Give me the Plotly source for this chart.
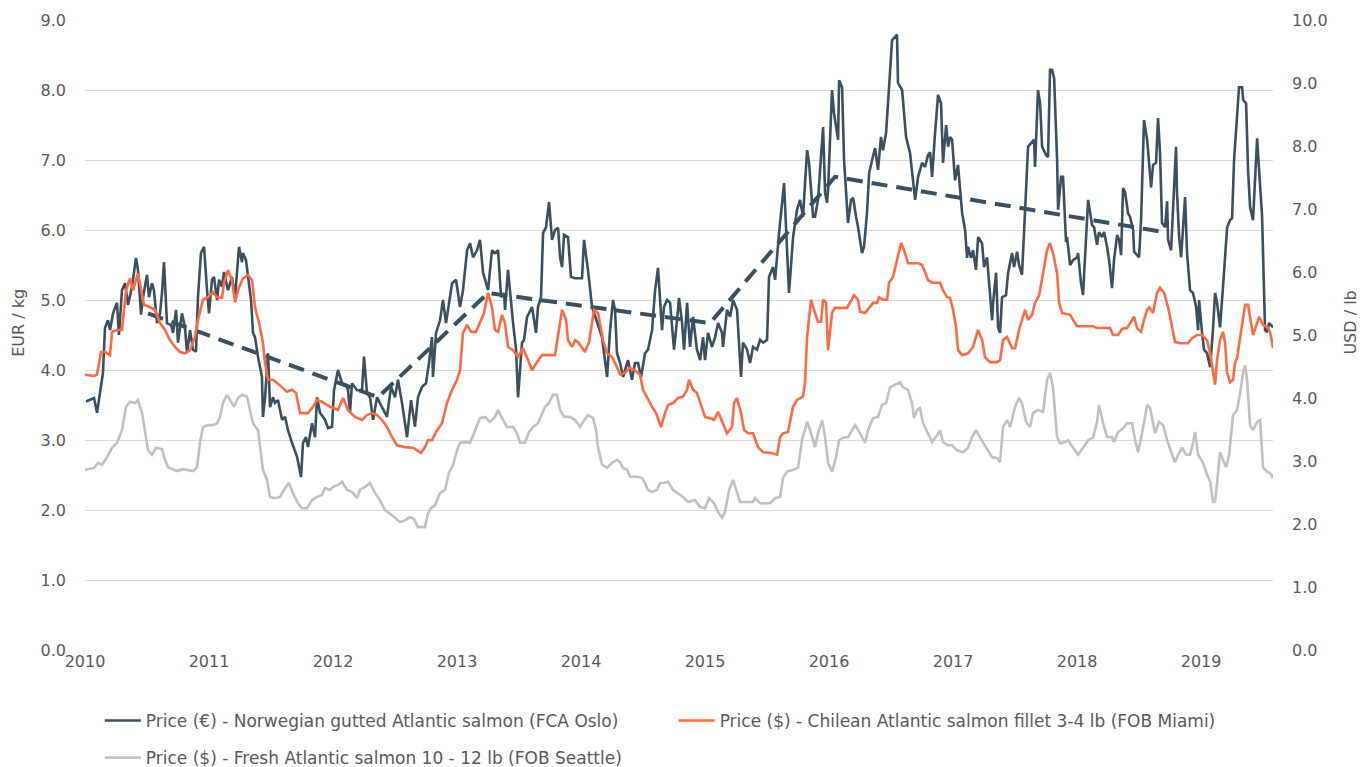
import plotly.graph_objects as go

# ---- Norwegian gutted Atlantic salmon (FCA Oslo), EUR/kg; time in years since Jan 2010 ----
nor_t = [0.008,0.073,0.097,0.121,0.145,0.161,0.185,0.202,0.226,0.258,0.274,0.298,0.323,0.347,0.379,0.411,0.427,0.452,0.468,0.5,
         0.516,0.540,0.556,0.581,0.605,0.621,0.637,0.661,0.694,0.710,0.734,0.750,0.782,0.806,0.823,0.847,0.871,0.895,0.911,0.935,
         0.960,0.984,1.0,1.024,1.040,1.065,1.081,1.105,1.121,1.153,1.185,1.210,1.242,1.266,1.274,1.298,1.315,1.339,1.355,1.371,
         1.395,1.427,1.435,1.452,1.476,1.492,1.516,1.532,1.556,1.589,1.613,1.637,1.669,1.710,1.742,1.758,1.782,1.798,1.831,1.855,
         1.871,1.895,1.935,1.960,1.992,2.008,2.040,2.073,2.105,2.121,2.137,2.153,2.194,2.234,2.250,2.274,2.298,2.323,2.355,2.379,
         2.403,2.435,2.468,2.5,2.524,2.556,2.597,2.629,2.661,2.685,2.718,2.750,2.774,2.798,2.806,2.831,2.863,2.887,2.911,2.935,
         2.960,2.992,3.024,3.048,3.081,3.105,3.129,3.161,3.185,3.210,3.250,3.282,3.306,3.331,3.355,3.379,3.387,3.411,3.427,3.452,
         3.476,3.492,3.524,3.540,3.565,3.589,3.605,3.637,3.653,3.677,3.694,3.718,3.742,3.766,3.790,3.815,3.831,3.847,3.863,3.895,
         3.919,3.952,4.008,4.024,4.056,4.089,4.129,4.169,4.210,4.234,4.258,4.274,4.290,4.315,4.339,4.379,4.411,4.435,4.460,4.484,
         4.516,4.540,4.573,4.597,4.621,4.653,4.669,4.694,4.718,4.750,4.774,4.790,4.815,4.831,4.855,4.879,4.903,4.935,4.960,4.984,
         5.0,5.024,5.056,5.081,5.105,5.137,5.145,5.177,5.202,5.226,5.258,5.290,5.306,5.339,5.363,5.387,5.419,5.444,5.468,5.5,
         5.516,5.548,5.565,5.597,5.637,5.661,5.677,5.710,5.742,5.766,5.790,5.823,5.839,5.871,5.887,5.911,5.952,5.968,5.984,5.992,
         6.024,6.040,6.073,6.081,6.105,6.121,6.145,6.153,6.177,6.194,6.218,6.234,6.266,6.282,6.306,6.323,6.347,6.371,6.395,6.419,
         6.435,6.460,6.484,6.508,6.548,6.556,6.589,6.621,6.653,6.694,6.718,6.750,6.774,6.798,6.815,6.831,6.855,6.879,6.903,6.919,
         6.944,6.960,6.976,6.992,7.016,7.040,7.073,7.097,7.113,7.121,7.145,7.161,7.185,7.202,7.234,7.250,7.274,7.290,7.315,7.323,
         7.347,7.363,7.379,7.395,7.427,7.444,7.476,7.492,7.516,7.532,7.556,7.581,7.605,7.629,7.653,7.661,7.685,7.702,7.718,7.750,
         7.766,7.782,7.798,7.815,7.839,7.847,7.871,7.887,7.911,7.919,7.944,7.968,8.0,8.008,8.032,8.048,8.073,8.089,8.121,8.137,
         8.161,8.177,8.202,8.218,8.242,8.258,8.282,8.298,8.323,8.339,8.355,8.371,8.387,8.411,8.427,8.452,8.460,8.484,8.5,8.516,
         8.540,8.565,8.597,8.613,8.637,8.653,8.669,8.685,8.710,8.726,8.734,8.758,8.774,8.798,8.806,8.823,8.839,8.855,8.871,8.887,
         8.911,8.935,8.960,8.976,8.984,9.008,9.024,9.048,9.073,9.097,9.113,9.129,9.153,9.177,9.194,9.210,9.234,9.250,9.266,9.290,
         9.306,9.331,9.339,9.363,9.379,9.395,9.419,9.452,9.476,9.492,9.516,9.532,9.548,9.581]
nor_v = [3.55,3.6,3.39,3.67,3.96,4.6,4.71,4.57,4.81,4.96,4.5,5.14,5.24,4.93,5.19,5.6,5.43,4.79,5.04,5.36,
         5.04,5.24,5.14,4.67,4.81,5.1,5.54,4.67,4.64,4.53,4.86,4.39,4.81,4.61,4.24,4.57,4.29,4.26,5.04,5.67,
         5.76,5.14,4.81,5.29,5.33,5.0,5.29,5.19,5.4,5.14,5.33,5.04,5.76,5.54,5.67,5.57,5.33,5.0,4.53,4.47,
         4.19,3.9,3.33,3.61,4.24,3.47,3.61,3.53,3.57,3.29,3.33,3.14,2.96,2.76,2.47,2.96,3.04,2.9,3.24,3.04,
         3.61,3.39,3.29,3.17,3.19,3.71,4.0,3.81,3.79,3.71,3.39,3.81,3.71,3.71,4.19,3.67,3.61,3.29,3.61,3.53,
         3.43,3.33,3.76,3.61,3.86,3.53,3.04,3.57,3.19,3.61,3.76,3.81,4.1,4.47,3.9,4.53,4.71,5.0,4.67,4.96,
         5.24,5.29,4.9,5.14,5.71,5.81,5.61,5.71,5.86,5.39,5.14,5.71,5.67,5.71,5.04,5.1,4.86,5.43,5.1,4.67,
         4.29,3.61,4.39,4.43,4.76,4.86,4.9,4.53,4.9,5.04,5.96,6.04,6.4,5.86,6.0,6.03,5.61,5.47,5.93,5.9,
         5.33,5.31,5.31,5.86,5.43,4.9,4.67,4.47,3.9,4.57,5.0,4.86,4.24,4.1,3.9,4.14,3.86,4.1,4.1,3.9,
         4.24,4.29,4.57,5.14,5.46,4.57,4.9,5.0,4.96,4.29,4.71,5.03,4.67,4.29,4.96,4.33,4.76,4.29,4.14,4.47,
         4.14,4.53,4.33,4.47,4.67,4.53,4.33,4.86,4.76,5.0,4.86,3.9,4.39,4.29,4.1,4.33,4.29,4.43,4.39,4.43,
         5.33,5.47,5.29,5.96,6.67,5.71,5.1,5.9,6.29,6.43,6.19,7.14,6.96,6.19,6.19,6.43,7.47,6.53,6.39,6.57,
         8.0,7.67,7.29,8.14,8.04,7.0,6.43,6.1,6.43,6.46,6.19,6.04,5.67,5.76,6.24,6.81,7.0,7.17,6.86,7.33,
         7.14,7.39,8.04,8.71,8.79,8.1,8.0,7.33,7.1,6.43,6.76,6.96,6.9,7.07,7.11,6.76,7.39,7.93,7.81,6.96,
         7.5,7.19,7.33,7.29,6.71,6.93,6.24,6.0,5.6,5.76,5.6,5.71,5.43,5.9,5.81,5.47,5.61,5.29,4.71,4.96,
         5.39,4.61,4.53,5.04,5.07,5.39,5.67,5.47,5.69,5.5,5.36,6.29,7.19,7.24,7.29,6.9,8.0,7.81,7.19,7.07,
         7.04,8.29,8.29,8.17,7.0,6.29,6.76,6.76,5.83,5.9,5.5,5.57,5.61,5.67,5.24,5.07,5.86,6.43,6.07,6.04,
         5.79,5.97,5.9,5.97,5.76,5.57,5.17,5.57,5.93,5.86,5.64,6.6,6.54,6.24,6.19,6.0,5.69,5.64,5.61,6.14,
         7.57,7.29,6.61,6.93,6.96,7.6,7.1,6.1,6.04,6.41,5.86,5.71,6.39,7.19,6.53,5.9,5.61,6.04,6.47,5.67,
         5.14,5.1,4.9,4.57,5.0,4.53,4.29,4.24,4.04,4.61,5.1,4.96,4.61,5.19,5.67,6.04,6.14,6.17,7.0,7.67,
         8.04,8.04,7.86,7.81,6.86,6.33,6.14,7.31,6.53,6.19,4.57,4.54,4.67,4.61]

# ---- Trend (dashed), EUR/kg ----
trend_t = [0.508, 2.363, 3.250, 5.040, 6.048, 8.734]
trend_v = [4.81, 3.61, 5.10, 4.67, 6.76, 5.96]

# ---- Chilean Atlantic salmon fillet 3-4 lb (FOB Miami), USD/lb ----
chi_t = [0.0,0.073,0.097,0.129,0.161,0.202,0.218,0.258,0.298,0.331,0.363,0.387,0.427,0.460,0.476,0.524,0.565,0.605,0.645,0.685,
         0.726,0.766,0.806,0.847,0.887,0.911,0.952,0.992,1.032,1.065,1.105,1.121,1.153,1.185,1.210,1.242,1.274,1.315,1.347,1.371,
         1.411,1.435,1.452,1.476,1.516,1.548,1.589,1.629,1.669,1.702,1.734,1.798,1.839,1.871,1.911,1.976,2.040,2.081,2.121,2.177,
         2.234,2.274,2.315,2.355,2.395,2.435,2.476,2.516,2.581,2.621,2.645,2.677,2.710,2.742,2.766,2.798,2.839,2.879,2.919,2.960,
         3.0,3.024,3.048,3.081,3.113,3.153,3.185,3.218,3.250,3.282,3.306,3.331,3.363,3.387,3.411,3.452,3.492,3.532,3.573,3.605,
         3.645,3.685,3.790,3.815,3.847,3.879,3.895,3.927,3.952,3.976,4.032,4.065,4.105,4.137,4.177,4.210,4.250,4.290,4.315,4.355,
         4.395,4.435,4.476,4.5,4.532,4.573,4.605,4.645,4.677,4.702,4.742,4.782,4.823,4.855,4.871,4.903,4.935,4.960,5.0,5.040,
         5.073,5.105,5.145,5.177,5.218,5.234,5.258,5.290,5.315,5.347,5.387,5.427,5.468,5.524,5.581,5.605,5.629,5.669,5.710,5.742,
         5.790,5.806,5.823,5.855,5.879,5.911,5.935,5.952,5.976,5.992,6.024,6.048,6.145,6.169,6.202,6.234,6.250,6.290,6.323,6.355,
         6.387,6.403,6.435,6.468,6.484,6.516,6.548,6.581,6.605,6.637,6.718,6.750,6.774,6.798,6.831,6.895,6.919,6.952,6.976,7.0,
         7.024,7.040,7.073,7.121,7.161,7.202,7.234,7.258,7.298,7.355,7.379,7.403,7.435,7.476,7.5,7.532,7.556,7.581,7.605,7.637,
         7.661,7.694,7.726,7.758,7.782,7.806,7.839,7.855,7.879,7.944,7.968,8.0,8.129,8.161,8.266,8.290,8.331,8.363,8.403,8.427,
         8.460,8.484,8.516,8.540,8.565,8.581,8.613,8.645,8.669,8.702,8.734,8.766,8.790,8.831,8.895,8.927,8.968,9.008,9.048,9.073,
         9.097,9.113,9.129,9.153,9.177,9.194,9.210,9.234,9.258,9.274,9.290,9.331,9.355,9.379,9.403,9.419,9.452,9.468,9.5,9.532,
         9.556,9.581]
chi_v = [4.37,4.35,4.37,4.73,4.73,4.68,5.05,5.08,5.08,5.71,5.9,5.71,5.98,5.6,5.48,5.44,5.4,5.19,5.08,4.92,
         4.81,4.73,4.71,4.76,4.97,5.24,5.56,5.6,5.68,5.6,5.59,5.83,6.03,5.87,5.52,5.76,5.9,5.95,5.87,5.44,
         5.13,4.87,4.56,4.29,4.29,4.24,4.17,4.1,4.13,4.08,3.76,3.76,3.86,3.97,3.94,3.86,3.81,4.0,3.81,3.7,
         3.65,3.73,3.76,3.73,3.65,3.54,3.38,3.25,3.22,3.22,3.21,3.17,3.13,3.22,3.33,3.33,3.49,3.6,3.92,4.13,
         4.29,4.44,5.03,5.16,5.05,5.05,5.19,5.35,5.67,5.44,5.08,5.05,5.32,5.19,4.81,4.76,4.65,4.79,4.6,4.44,
         4.57,4.68,4.68,5.03,5.4,5.24,4.92,4.81,4.92,4.89,4.73,4.89,5.4,5.35,4.92,4.71,4.65,4.49,4.37,4.4,
         4.48,4.44,4.37,4.13,4.0,3.86,3.76,3.54,3.76,3.89,3.92,4.0,4.02,4.13,4.29,4.13,4.08,3.92,3.7,3.68,
         3.65,3.78,3.6,3.44,3.54,3.92,4.0,3.76,3.49,3.44,3.44,3.22,3.14,3.13,3.1,3.38,3.44,3.46,3.86,3.97,
         4.02,4.24,4.97,5.56,5.4,5.21,5.21,5.56,5.51,4.76,5.35,5.43,5.43,5.51,5.63,5.56,5.37,5.35,5.44,5.51,
         5.51,5.6,5.56,5.56,5.83,5.92,6.19,6.46,6.35,6.14,6.14,6.11,6.0,5.87,5.83,5.83,5.71,5.6,5.59,5.4,
         5.13,4.76,4.68,4.71,4.81,5.08,4.92,4.65,4.57,4.57,4.6,4.92,4.97,4.79,4.79,5.08,5.24,5.4,5.24,5.32,
         5.51,5.63,5.98,6.35,6.46,6.3,5.98,5.51,5.35,5.32,5.24,5.14,5.14,5.11,5.11,5.0,5.0,5.1,5.11,5.19,
         5.29,5.11,5.05,5.24,5.4,5.44,5.35,5.67,5.75,5.67,5.44,5.13,4.89,4.87,4.87,4.95,5.0,5.0,4.92,4.71,
         4.44,4.21,4.6,4.92,5.05,4.87,4.4,4.25,4.29,4.56,4.63,5.13,5.48,5.48,5.19,5.0,5.19,5.29,5.16,5.13,
         5.05,4.79]

# ---- Fresh Atlantic salmon 10-12 lb (FOB Seattle), USD/lb ----
sea_t = [0.0,0.073,0.105,0.137,0.177,0.218,0.258,0.298,0.331,0.363,0.403,0.427,0.460,0.484,0.508,0.540,0.573,0.621,0.645,0.669,
         0.742,0.790,0.831,0.871,0.903,0.927,0.952,0.992,1.032,1.065,1.089,1.113,1.145,1.169,1.202,1.234,1.266,1.306,1.331,1.355,
         1.395,1.435,1.468,1.492,1.532,1.573,1.613,1.645,1.677,1.718,1.750,1.790,1.831,1.871,1.911,1.935,1.976,2.0,2.040,2.073,
         2.113,2.153,2.194,2.218,2.258,2.298,2.339,2.379,2.419,2.476,2.540,2.581,2.621,2.653,2.685,2.742,2.766,2.790,2.823,2.863,
         2.903,2.935,2.968,3.0,3.024,3.065,3.105,3.145,3.185,3.226,3.266,3.306,3.331,3.363,3.403,3.452,3.484,3.508,3.548,3.581,
         3.613,3.653,3.685,3.710,3.742,3.774,3.806,3.831,3.863,3.911,3.952,3.992,4.016,4.056,4.097,4.121,4.137,4.169,4.210,4.250,
         4.290,4.315,4.339,4.371,4.395,4.452,4.492,4.516,4.540,4.573,4.613,4.637,4.669,4.702,4.742,4.782,4.823,4.863,4.919,4.960,
         5.0,5.032,5.073,5.105,5.137,5.161,5.194,5.226,5.258,5.282,5.387,5.403,5.444,5.524,5.565,5.605,5.629,5.661,5.710,5.750,
         5.782,5.823,5.847,5.887,5.911,5.944,5.968,5.992,6.024,6.056,6.081,6.113,6.153,6.210,6.250,6.290,6.315,6.355,6.395,6.427,
         6.460,6.492,6.532,6.573,6.597,6.637,6.669,6.685,6.710,6.734,6.758,6.798,6.831,6.871,6.895,6.919,6.960,6.992,7.032,7.081,
         7.121,7.153,7.185,7.218,7.242,7.282,7.315,7.355,7.379,7.403,7.435,7.460,7.5,7.532,7.556,7.589,7.621,7.645,7.685,7.726,
         7.758,7.782,7.806,7.839,7.863,7.903,7.927,7.968,8.008,8.048,8.089,8.129,8.161,8.177,8.210,8.242,8.282,8.298,8.331,8.371,
         8.403,8.444,8.468,8.492,8.524,8.565,8.589,8.629,8.661,8.694,8.726,8.766,8.790,8.815,8.847,8.879,8.911,8.935,8.952,8.976,
         9.016,9.048,9.073,9.097,9.113,9.137,9.153,9.177,9.202,9.226,9.258,9.290,9.315,9.339,9.355,9.371,9.395,9.419,9.452,9.476,
         9.500,9.532,9.556,9.581]
sea_v = [2.86,2.89,2.97,2.94,3.06,3.21,3.29,3.49,3.86,3.94,3.92,3.97,3.76,3.44,3.17,3.1,3.21,3.19,3.02,2.9,
         2.84,2.87,2.86,2.84,2.9,3.29,3.54,3.57,3.57,3.6,3.7,3.92,4.05,3.97,3.86,4.0,4.05,4.02,3.81,3.6,
         3.49,2.86,2.7,2.43,2.41,2.43,2.57,2.65,2.49,2.33,2.25,2.25,2.38,2.43,2.46,2.57,2.54,2.59,2.62,2.67,
         2.54,2.51,2.41,2.54,2.59,2.65,2.49,2.38,2.22,2.14,2.03,2.06,2.11,2.08,1.95,1.95,2.17,2.25,2.3,2.49,
         2.54,2.81,2.94,3.17,3.29,3.3,3.29,3.49,3.68,3.7,3.62,3.7,3.81,3.68,3.54,3.54,3.44,3.29,3.29,3.46,
         3.54,3.6,3.76,3.86,3.92,4.05,4.05,3.81,3.7,3.7,3.65,3.54,3.62,3.73,3.68,3.49,3.22,2.94,2.89,2.97,
         3.02,2.98,2.89,2.86,2.75,2.75,2.73,2.65,2.54,2.51,2.54,2.65,2.65,2.67,2.54,2.49,2.43,2.35,2.38,2.27,
         2.25,2.41,2.33,2.19,2.1,2.19,2.54,2.7,2.49,2.35,2.35,2.41,2.33,2.33,2.41,2.43,2.73,2.83,2.86,2.89,
         3.33,3.62,3.49,3.22,3.44,3.65,3.38,2.97,2.83,3.06,3.33,3.37,3.38,3.57,3.44,3.29,3.49,3.68,3.7,3.89,
         3.92,4.17,4.21,4.25,4.17,4.13,3.92,3.68,3.81,3.84,3.6,3.44,3.3,3.41,3.49,3.3,3.25,3.25,3.17,3.14,
         3.21,3.38,3.49,3.37,3.29,3.17,3.06,3.05,2.98,3.54,3.65,3.54,3.86,4.0,3.92,3.62,3.54,3.76,3.81,3.78,
         4.29,4.4,4.17,3.38,3.28,3.3,3.33,3.21,3.1,3.21,3.33,3.37,3.62,3.89,3.6,3.38,3.38,3.3,3.46,3.52,
         3.6,3.6,3.33,3.14,3.44,3.89,3.84,3.44,3.62,3.57,3.33,3.1,2.98,3.1,3.21,3.1,3.1,3.29,3.46,3.1,
         2.97,2.78,2.67,2.35,2.35,2.81,3.14,3.02,2.9,3.1,3.73,3.81,4.08,4.41,4.52,4.29,3.57,3.49,3.62,3.65,
         2.9,2.83,2.81,2.73]

years = [2010, 2011, 2012, 2013, 2014, 2015, 2016, 2017, 2018, 2019]
base_year = 2010
names = ["Price (€) - Norwegian gutted Atlantic salmon (FCA Oslo)",
         "Price ($) - Chilean Atlantic salmon fillet 3-4 lb (FOB Miami)",
         "Price ($) - Fresh Atlantic salmon 10 - 12 lb (FOB Seattle)"]
axis_titles = ["EUR / kg", "USD / lb"]

DARK = "#3b4f5f"
ORANGE = "#fd6a44"
GRAY = "#c0c0c0"
FONT = "DejaVu Sans"
TXT = "#595959"


def shift(ts):
    return [base_year + t for t in ts]


fig = go.Figure()
fig.add_trace(go.Scatter(x=shift(nor_t), y=nor_v, mode="lines", name=names[0], legend="legend",
                         line=dict(color=DARK, width=2.6), yaxis="y"))
fig.add_trace(go.Scatter(x=shift(trend_t), y=trend_v, mode="lines", showlegend=False,
                         line=dict(color=DARK, width=4, dash="16px,9px"), yaxis="y"))
fig.add_trace(go.Scatter(x=shift(chi_t), y=chi_v, mode="lines", name=names[1], legend="legend2",
                         line=dict(color=ORANGE, width=2.6), yaxis="y2"))
fig.add_trace(go.Scatter(x=shift(sea_t), y=sea_v, mode="lines", name=names[2], legend="legend3",
                         line=dict(color=GRAY, width=2.6), yaxis="y2"))

legend_common = dict(orientation="h", xanchor="left", yanchor="top", itemwidth=36,
                     font=dict(size=17, color=TXT, family=FONT), bgcolor="rgba(0,0,0,0)")

fig.update_layout(
    width=1362, height=800,
    paper_bgcolor="white", plot_bgcolor="white",
    margin=dict(l=77, r=97, t=12, b=158),
    font=dict(family=FONT, color=TXT, size=16),
    xaxis=dict(range=[2010, 2019.58], tickvals=years, ticktext=[str(y) for y in years],
               showgrid=False, zeroline=False, showline=False, ticks="",
               tickfont=dict(size=16, color=TXT), automargin=False),
    yaxis=dict(range=[0, 9], dtick=1, tickformat=".1f", showgrid=True, gridcolor="#d9d9d9",
               gridwidth=1.2, zeroline=False, ticks="", ticklabelstandoff=18,
               tickfont=dict(size=16, color=TXT), automargin=False),
    yaxis2=dict(range=[0, 10], dtick=1, tickformat=".1f", overlaying="y", side="right",
                showgrid=False, zeroline=False, ticks="", ticklabelstandoff=18,
                tickfont=dict(size=16, color=TXT), automargin=False),
    legend=dict(x=0.0125, y=-0.084, **legend_common),
    legend2=dict(x=0.4955, y=-0.084, **legend_common),
    legend3=dict(x=0.0125, y=-0.143, **legend_common),
    showlegend=True,
    annotations=[
        dict(text=axis_titles[0], xref="paper", yref="paper", x=-0.056, y=0.52, textangle=-90,
             showarrow=False, font=dict(size=16, color=TXT, family=FONT), xanchor="center", yanchor="middle"),
        dict(text=axis_titles[1], xref="paper", yref="paper", x=1.065, y=0.52, textangle=-90,
             showarrow=False, font=dict(size=16, color=TXT, family=FONT), xanchor="center", yanchor="middle"),
    ],
)

fig.write_html("out.html")
